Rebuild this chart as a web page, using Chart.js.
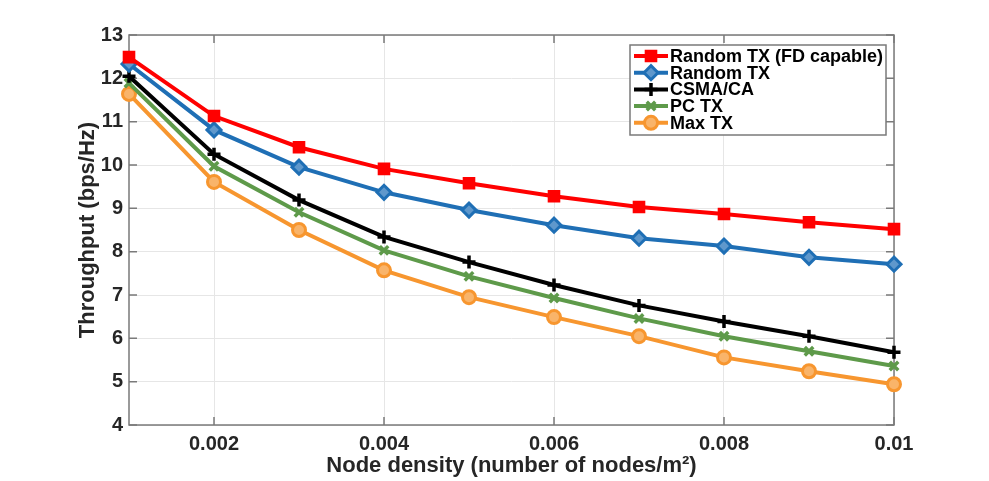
<!DOCTYPE html>
<html><head><meta charset="utf-8">
<script src="https://cdn.jsdelivr.net/npm/chart.js@4.4.0/dist/chart.umd.min.js"></script>
<style>html,body{margin:0;padding:0;background:#fff}canvas{display:block}</style>
</head><body>
<canvas id="c" width="989" height="481"></canvas>
<script>
const nodeDensity = [0.001, 0.002, 0.003, 0.004, 0.005, 0.006, 0.007, 0.008, 0.009, 0.01];
const xTickValues = [0.002, 0.004, 0.006, 0.008, 0.01];
const xTickLabels = ['0.002', '0.004', '0.006', '0.008', '0.01'];
const yTickValues = [4, 5, 6, 7, 8, 9, 10, 11, 12, 13];
const seriesNames = ['Random TX (FD capable)', 'Random TX', 'CSMA/CA', 'PC TX', 'Max TX'];
const randomTxFD = [12.49, 11.13, 10.41, 9.91, 9.58, 9.28, 9.03, 8.87, 8.68, 8.52];
const randomTx   = [12.33, 10.81, 9.95, 9.37, 8.96, 8.61, 8.31, 8.13, 7.87, 7.71];
const csmaCa     = [12.05, 10.25, 9.19, 8.34, 7.76, 7.23, 6.76, 6.39, 6.05, 5.68];
const pcTx       = [11.89, 9.97, 8.91, 8.03, 7.43, 6.93, 6.46, 6.05, 5.70, 5.36];
const maxTx      = [11.64, 9.61, 8.50, 7.57, 6.95, 6.49, 6.05, 5.56, 5.24, 4.94];

const FONT = "'Liberation Sans', Arial, Helvetica, sans-serif";
const AXIS = '#7a7a7a';

function pts(arr){ return arr.map((v,i)=>({x:nodeDensity[i], y:v})); }

const styles = [
  {color:'#ff0000', style:'rect', r:7.5, bw:2, fill:'#ff0000'},
  {color:'#1f6fb5', style:'rectRot', r:7, bw:3, fill:'#5f98cc'},
  {color:'#000000', style:'cross', r:6.5, bw:3.5, fill:'#000000'},
  {color:'#5e9a4a', style:'crossRot', r:6, bw:3.5, fill:'#5e9a4a'},
  {color:'#f7962f', style:'circle', r:6.5, bw:3, fill:'#f9b46a'}
];
const seriesValues = [randomTxFD, randomTx, csmaCa, pcTx, maxTx];

const datasets = seriesValues.map((vals,i)=>({
  label: seriesNames[i],
  data: pts(vals),
  borderColor: styles[i].color,
  backgroundColor: styles[i].color,
  borderWidth: 4,
  pointStyle: styles[i].style,
  pointRadius: styles[i].r,
  pointBorderWidth: styles[i].bw,
  pointBorderColor: styles[i].color,
  pointBackgroundColor: styles[i].fill,
  tension: 0,
  clip: false
}));

const boxPlugin = {
  id: 'boxPlugin',
  beforeDatasetsDraw(chart){
    const {ctx, chartArea:a, scales:{x, y}} = chart;
    ctx.save();
    ctx.strokeStyle = AXIS;
    ctx.lineWidth = 1.5;
    ctx.strokeRect(a.left, a.top, a.right - a.left, a.bottom - a.top);
    const L = 8;
    ctx.beginPath();
    xTickValues.forEach(v=>{
      const px = x.getPixelForValue(v);
      ctx.moveTo(px, a.bottom); ctx.lineTo(px, a.bottom - L);
      ctx.moveTo(px, a.top); ctx.lineTo(px, a.top + L);
    });
    yTickValues.forEach(v=>{
      const py = y.getPixelForValue(v);
      ctx.moveTo(a.left, py); ctx.lineTo(a.left + L, py);
      ctx.moveTo(a.right, py); ctx.lineTo(a.right - L, py);
    });
    ctx.stroke();
    ctx.restore();
  },
  afterDraw(chart){
    const ctx = chart.ctx;
    const bx = 630, by = 45, bw = 256, bh = 90;
    ctx.save();
    ctx.fillStyle = '#fff';
    ctx.fillRect(bx, by, bw, bh);
    ctx.strokeStyle = AXIS;
    ctx.lineWidth = 1.5;
    ctx.strokeRect(bx, by, bw, bh);
    ctx.font = "bold 18px " + FONT;
    ctx.textBaseline = 'middle';
    ctx.textAlign = 'left';
    chart.data.datasets.forEach((ds,i)=>{
      const cy = 56 + i * 16.7;
      ctx.strokeStyle = ds.borderColor;
      ctx.lineWidth = 4;
      ctx.beginPath(); ctx.moveTo(634, cy); ctx.lineTo(668, cy); ctx.stroke();
      ctx.fillStyle = ds.pointBackgroundColor;
      ctx.strokeStyle = ds.pointBorderColor;
      ctx.lineWidth = ds.pointBorderWidth;
      Chart.helpers.drawPoint(ctx, {
        pointStyle: ds.pointStyle, radius: ds.pointRadius, rotation: 0,
        borderWidth: ds.pointBorderWidth
      }, 651, cy);
      ctx.fillStyle = '#000';
      ctx.fillText(ds.label, 670, cy + 1);
    });
    ctx.restore();
  }
};

new Chart(document.getElementById('c'), {
  type: 'line',
  data: { datasets },
  options: {
    responsive: false,
    animation: false,
    layout: { padding: { left: 0, right: 95, top: 35, bottom: 0 } },
    plugins: { legend: { display: false }, tooltip: { enabled: false } },
    scales: {
      x: {
        type: 'linear',
        min: 0.001, max: 0.01,
        afterBuildTicks(s){ s.ticks = xTickValues.map(v=>({value:v})); },
        afterFit(s){ s.height = 56; },
        ticks: {
          autoSkip: false, maxRotation: 0, padding: 7,
          color: '#262626',
          font: { family: FONT, size: 20, weight: 'bold' },
          callback(v){ const i = xTickValues.findIndex(t=>Math.abs(t-v)<1e-9); return i>=0 ? xTickLabels[i] : ''; }
        },
        grid: { color: '#e6e6e6', lineWidth: 1, drawTicks: false },
        border: { display: false },
        title: {
          display: true, text: 'Node density (number of nodes/m²)', color: '#262626',
          font: { family: FONT, size: 22, weight: 'bold' },
          padding: { top: 0, bottom: 2 }
        }
      },
      y: {
        min: 4, max: 13,
        afterBuildTicks(s){ s.ticks = yTickValues.map(v=>({value:v})); },
        afterFit(s){ s.width = 129; },
        ticks: {
          padding: 6, color: '#262626',
          font: { family: FONT, size: 20, weight: 'bold' }
        },
        grid: { color: '#e6e6e6', lineWidth: 1, drawTicks: false },
        border: { display: false },
        title: {
          display: true, text: 'Throughput (bps/Hz)', color: '#262626',
          font: { family: FONT, size: 22, weight: 'bold' },
          padding: { top: 75, bottom: 0 }
        }
      }
    }
  },
  plugins: [boxPlugin]
});
</script>
</body></html>
